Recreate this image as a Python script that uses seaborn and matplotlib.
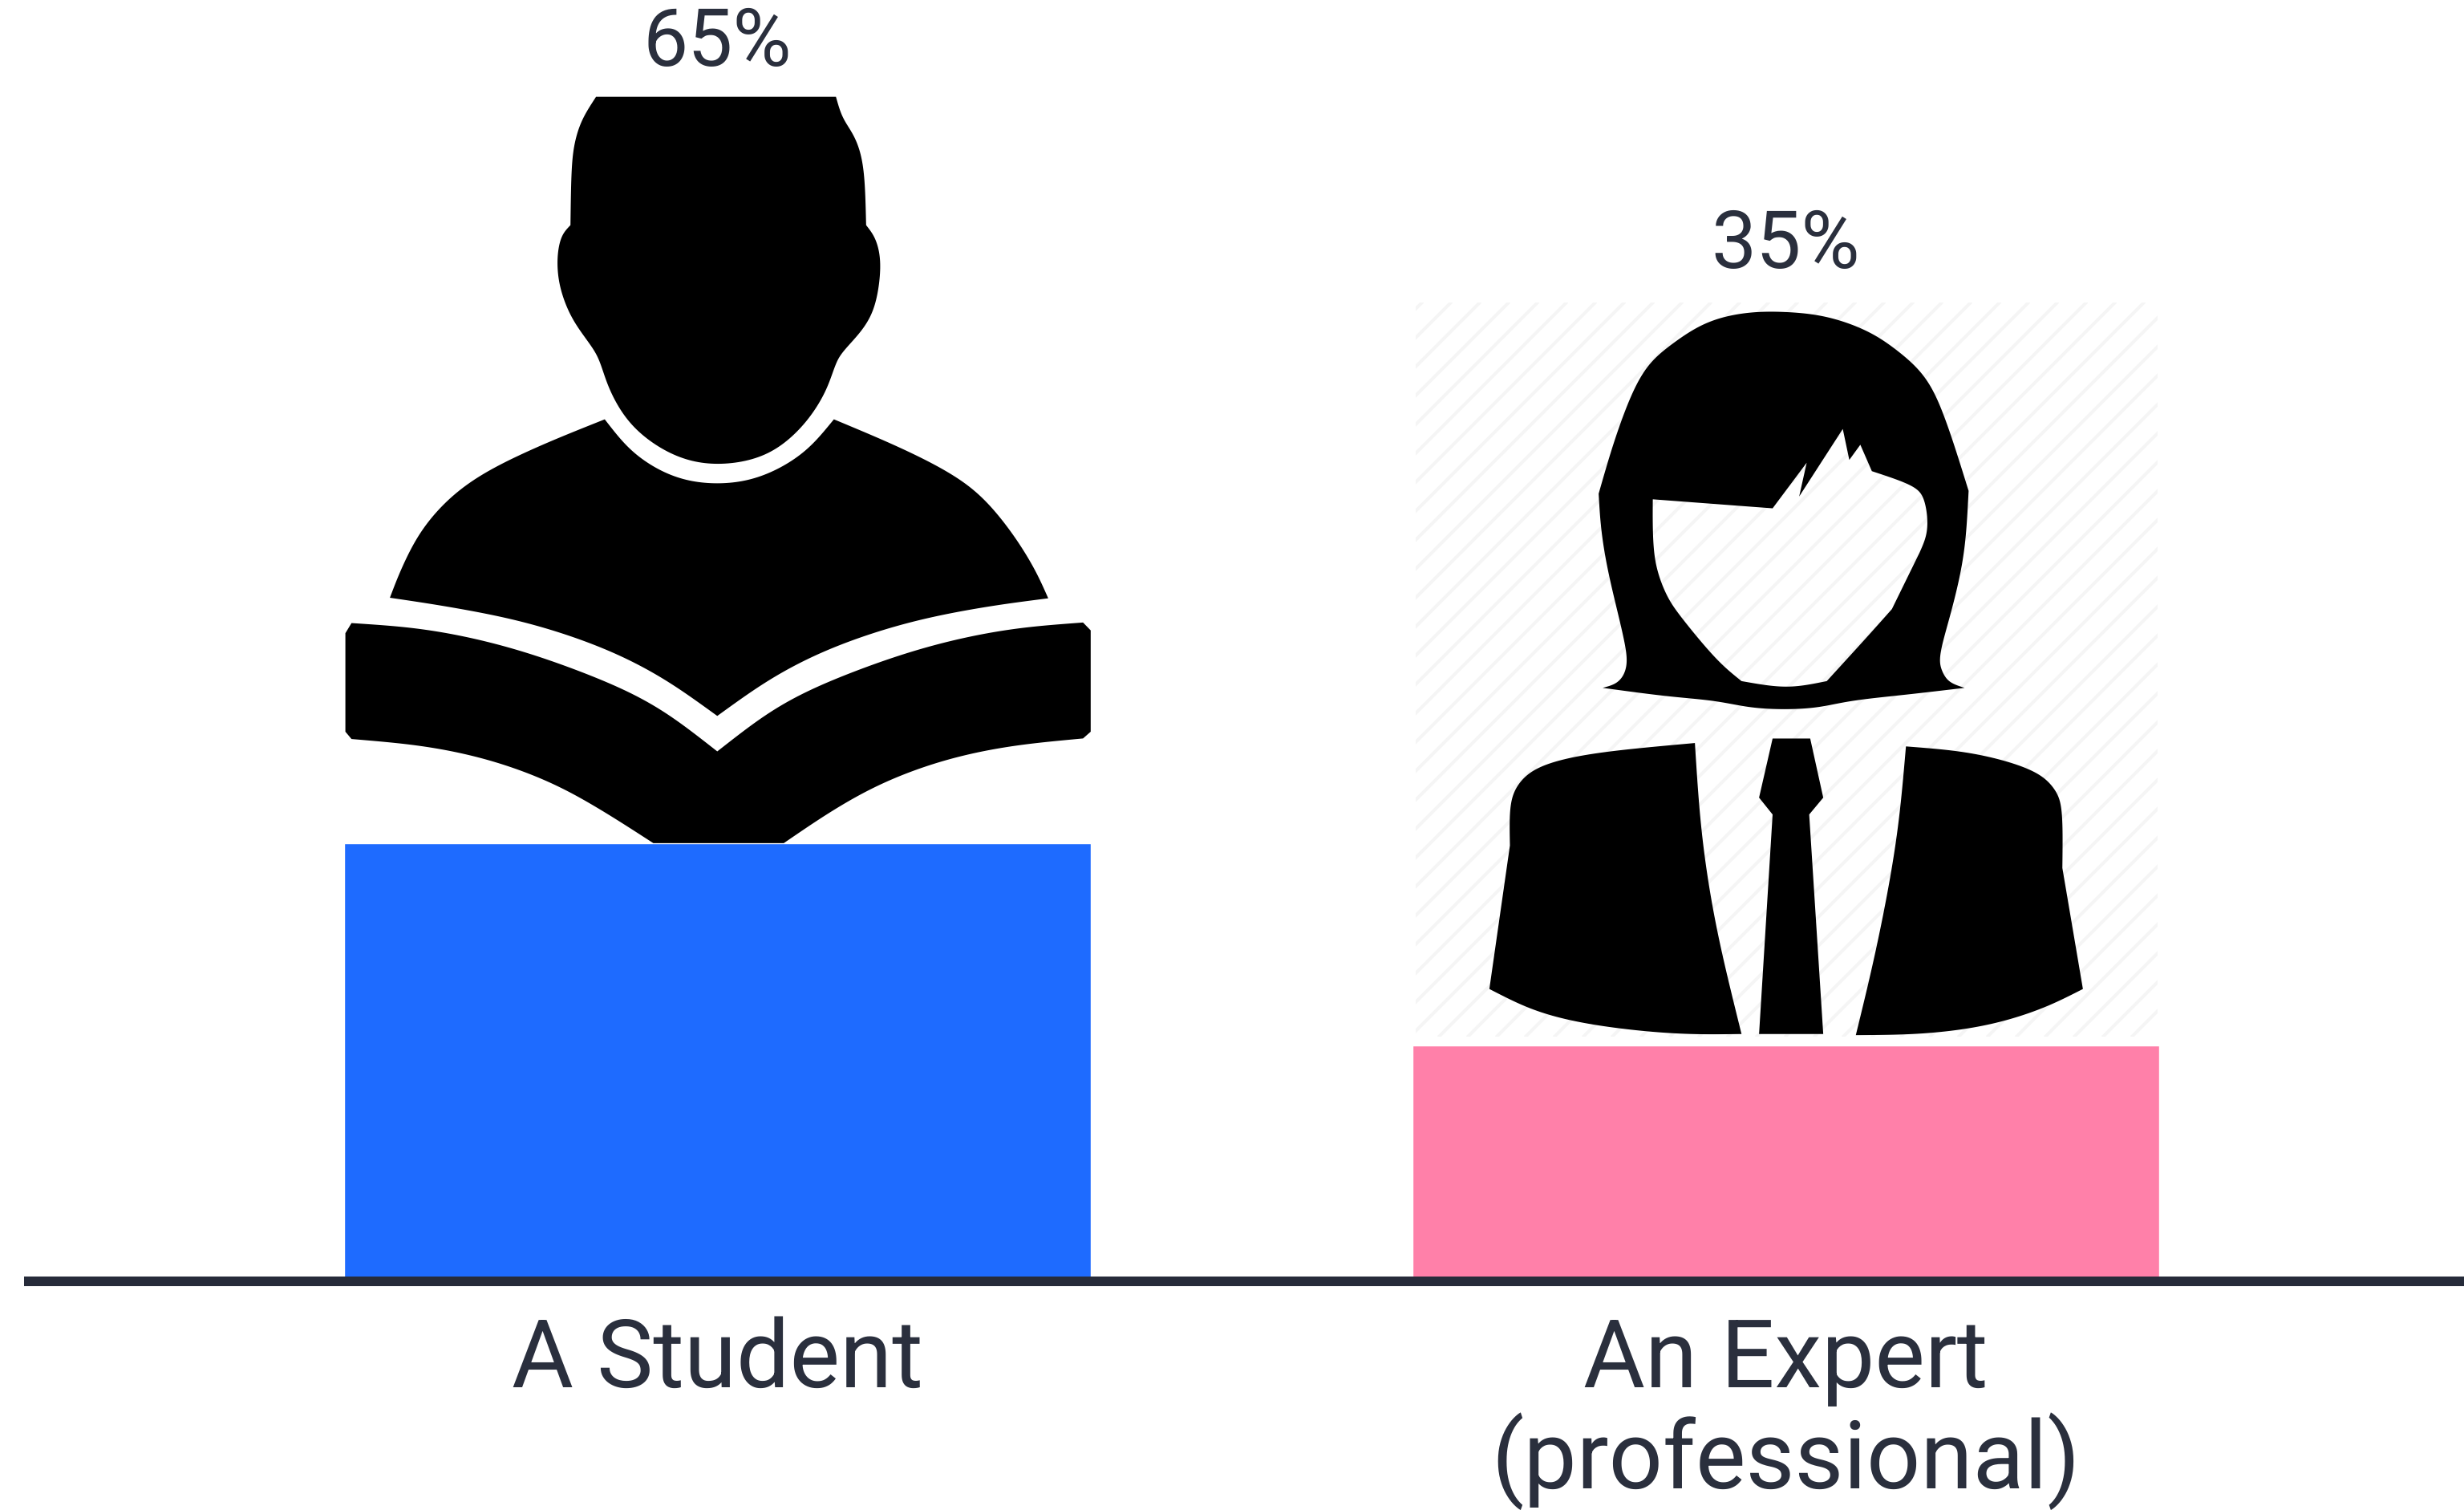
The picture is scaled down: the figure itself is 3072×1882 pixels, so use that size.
import numpy as np
import pandas as pd
import seaborn as sns
import matplotlib
matplotlib.use("Agg")
import matplotlib.pyplot as plt
from matplotlib.path import Path
from matplotlib.patches import PathPatch, Rectangle
from matplotlib.transforms import Affine2D

# ---- data ----
categories = ["A Student", "An Expert\n(professional)"]
values = [65, 35]
value_labels = ["65%", "35%"]
bar_colors = ["#1E6BFF", "#FF80A9"]

INK = "#2A2F3D"
W, H = 3072, 1882

sns.set_theme(style="white")
plt.rcParams["font.family"] = ["Roboto", "DejaVu Sans"]
plt.rcParams["text.hinting"] = "no_hinting"
plt.rcParams["text.hinting_factor"] = 1

fig = plt.figure(figsize=(W / 100, H / 100), dpi=100, facecolor="white")
ax = fig.add_axes([30 / W, (H - 1597) / H, (W - 30) / W, 1597 / H])

df = pd.DataFrame({"who": categories, "share": values})
sns.barplot(data=df, x="who", y="share", hue="who", palette=bar_colors, width=0.699,
            saturation=1, legend=False, ax=ax)

# 1332 px between bar centres, first centre at 894.5 px
ax.set_xlim((30 - 894.5) / 1332, (W - 894.5) / 1332)
ax.set_ylim(0, 1597 / 8.4)
ax.set_xlabel("")
ax.set_ylabel("")
ax.set_yticks([])
sns.despine(ax=ax, left=True)
ax.spines["bottom"].set_linewidth(12 * 0.72)
ax.spines["bottom"].set_color("#262B3A")
ax.spines["bottom"].set_capstyle("butt")
ax.tick_params(axis="x", length=0, pad=31, labelsize=85, labelcolor=INK)
for lab in ax.get_xticklabels():
    lab.set_linespacing(1.08)

for i, (v, t) in enumerate(zip(values, value_labels)):
    ax.annotate(t, (i, v), xytext=(0, 996 * 0.72), textcoords="offset points",
                ha="center", va="center", fontsize=72, color=INK,
                annotation_clip=False)


# ---- pictograms (traced outlines, decorative) ----
def smooth(pts, n=14, passes=50):
    """Catmull-Rom polyline through the points of one run, then relaxed to remove wobble."""
    p = np.asarray(pts, float)
    if len(p) < 3:
        return p
    q = np.vstack([2 * p[0] - p[1], p, 2 * p[-1] - p[-2]])
    out = []
    ts = np.linspace(0, 1, n, endpoint=False)[:, None]
    for i in range(1, len(q) - 2):
        a, b, c, d = q[i - 1], q[i], q[i + 1], q[i + 2]
        out.append(0.5 * (2 * b + (c - a) * ts + (2 * a - 5 * b + 4 * c - d) * ts ** 2
                          + (3 * b - a - 3 * c + d) * ts ** 3))
    out.append(p[-1:])
    v = np.vstack(out)
    for _ in range(passes):
        v[1:-1] = 0.25 * v[:-2] + 0.5 * v[1:-1] + 0.25 * v[2:]
    return v


def outline(runs, sx, sy, ox, oy):
    v = np.vstack([smooth(r) for r in runs])
    v = v / [sx, sy] + [ox, oy]
    return v


def area(v):
    x, y = v[:, 0], v[:, 1]
    return 0.5 * np.sum(x * np.roll(y, -1) - np.roll(x, -1) * y)


px = Affine2D().scale(1 / W, -1 / H).translate(0, 1) + fig.transFigure


def draw_shape(rings):
    """First ring is the outside, later rings are holes."""
    verts, codes = [], []
    for k, v in enumerate(rings):
        ccw = area(v) > 0
        if (k == 0) != ccw:
            v = v[::-1]
        verts.append(v)
        verts.append(v[:1])
        codes += [Path.MOVETO] + [Path.LINETO] * (len(v) - 1) + [Path.CLOSEPOLY]
    fig.add_artist(PathPatch(Path(np.vstack(verts), codes), fc="black", ec="none",
                             transform=px, zorder=5))


S = (1.568, 1.4255, 400, 0)
head = [
    [(538, 172), (1007, 172)],
    [(1007, 172), (1020, 210), (1045, 245), (1062, 300), (1066, 400)],
    [(1066, 400), (1085, 425), (1095, 470), (1085, 540), (1060, 585), (1020, 625), (1005, 650),
     (985, 700), (940, 760), (870, 810), (775, 826), (690, 810), (610, 760), (565, 695), (545, 640),
     (525, 610), (490, 565), (467, 510), (462, 460), (470, 420), (488, 400)],
    [(488, 400), (490, 300), (497, 250), (512, 210), (538, 172)],
]
body = [
    [(555, 745), (610, 805), (690, 848), (775, 860), (860, 848), (945, 805), (1003, 745)],
    [(1003, 745), (1120, 790), (1220, 835), (1290, 880), (1350, 945), (1395, 1010), (1422, 1063)],
    [(1422, 1063), (1300, 1078), (1150, 1105), (1000, 1150), (880, 1205), (775, 1272)],
    [(775, 1272), (670, 1205), (550, 1150), (400, 1105), (250, 1078), (135, 1062)],
    [(135, 1062), (160, 1005), (205, 930), (290, 855), (420, 795), (555, 745)],
]
book = [
    [(48, 1125), (60, 1107)],
    [(60, 1107), (200, 1117), (350, 1145), (500, 1190), (650, 1250), (775, 1335)],
    [(775, 1335), (900, 1250), (1050, 1190), (1200, 1145), (1350, 1117), (1490, 1106)],
    [(1490, 1106), (1505, 1120)],
    [(1505, 1120), (1505, 1300)],
    [(1505, 1300), (1490, 1312)],
    [(1490, 1312), (1350, 1325), (1220, 1350), (1100, 1390), (1000, 1440), (905, 1498)],
    [(905, 1498), (650, 1498)],
    [(650, 1498), (550, 1440), (450, 1390), (330, 1350), (200, 1325), (60, 1313)],
    [(60, 1313), (48, 1300)],
    [(48, 1300), (48, 1125)],
]
for shape in (head, body, book):
    draw_shape([outline(shape, *S)])

# faint stripes behind the expert
clip = Rectangle((1765, 377), 925, 915, transform=px, fc="none", ec="none")
fig.add_artist(clip)
for c in np.arange(1765 + 377 - 1000, 2690 + 1292 + 40, 36.0):
    ln = plt.Line2D([c - 1292, c - 377], [1292, 377], transform=px, color="#F5F5F5",
                    lw=4 * 0.72, zorder=2)
    fig.add_artist(ln)
    ln.set_clip_path(clip)

E = (1.6, 1.4255, 1740, 240)
hair = [
    [(405, 535), (440, 430), (490, 320), (550, 270), (620, 230), (700, 213), (780, 212), (860, 220),
     (940, 245), (1000, 280), (1060, 330), (1100, 410), (1143, 530)],
    [(1143, 530), (1135, 640), (1110, 740), (1085, 820), (1090, 850), (1105, 870), (1135, 880)],
    [(1135, 880), (1020, 892), (905, 903), (830, 917), (720, 917), (640, 903), (540, 895), (413, 880)],
    [(413, 880), (445, 870), (462, 840), (455, 790), (425, 680), (410, 600), (405, 535)],
]
face = [
    [(513, 545), (752, 561)],
    [(752, 561), (820, 480)],
    [(820, 480), (805, 540)],
    [(805, 540), (892, 420)],
    [(892, 420), (905, 475)],
    [(905, 475), (927, 448)],
    [(927, 448), (950, 495)],
    [(950, 495), (1030, 520), (1055, 545), (1062, 600), (1045, 640)],
    [(1045, 640), (990, 740)],
    [(990, 740), (940, 790), (860, 868)],
    [(860, 868), (780, 880), (690, 868)],
    [(690, 868), (640, 830), (570, 755), (540, 715), (518, 660), (513, 600), (513, 545)],
]
jacket_l = [
    [(597, 978), (610, 1140), (640, 1310), (690, 1495)],
    [(690, 1495), (560, 1495), (400, 1480), (280, 1455), (187, 1415)],
    [(187, 1415), (228, 1160)],
    [(228, 1160), (228, 1090), (245, 1050), (290, 1018), (400, 995), (597, 978)],
]
jacket_r = [
    [(1018, 984), (1000, 1150), (960, 1340), (918, 1497)],
    [(918, 1497), (1050, 1495), (1180, 1480), (1290, 1450), (1371, 1415)],
    [(1371, 1415), (1330, 1200)],
    [(1330, 1200), (1330, 1100), (1315, 1060), (1270, 1025), (1150, 995), (1018, 984)],
]
tie = [
    [(752, 970), (827, 970)], [(827, 970), (853, 1075)], [(853, 1075), (825, 1105)],
    [(825, 1105), (853, 1495)], [(853, 1495), (725, 1495)], [(725, 1495), (752, 1105)],
    [(752, 1105), (725, 1075)], [(725, 1075), (752, 970)],
]
draw_shape([outline(hair, *E), outline(face, *E)])
for shape in (jacket_l, jacket_r, tie):
    draw_shape([outline(shape, *E)])

fig.savefig("out.png", dpi=100, facecolor="white")
